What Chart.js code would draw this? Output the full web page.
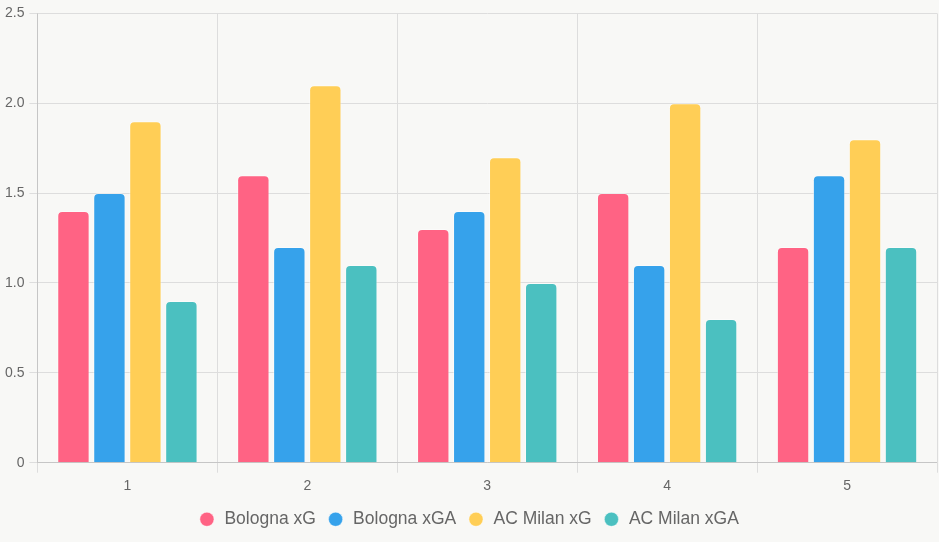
<!DOCTYPE html>
<html><head><meta charset="utf-8">
<script src="https://cdn.jsdelivr.net/npm/chart.js@4/dist/chart.umd.min.js"></script>
<style>html,body{margin:0;padding:0;background:#f8f8f6;}#wrap{width:939px;height:542px;}</style>
</head><body><div id="wrap"><canvas id="c"></canvas></div>
<script>
const categories = ['1','2','3','4','5'];
const bolognaXG = [1.4, 1.6, 1.3, 1.5, 1.2];
const bolognaXGA = [1.5, 1.2, 1.4, 1.1, 1.6];
const milanXG = [1.9, 2.1, 1.7, 2.0, 1.8];
const milanXGA = [0.9, 1.1, 1.0, 0.8, 1.2];
const seriesNames = ['Bologna xG','Bologna xGA','AC Milan xG','AC Milan xGA'];
const colors = ['#ff6384','#36a2eb','#ffce56','#4bc0c0'];
const vals = [bolognaXG, bolognaXGA, milanXG, milanXGA];
Chart.defaults.font.family = '"Liberation Sans", Arial, sans-serif';
Chart.defaults.color = '#666';
new Chart(document.getElementById('c'), {
  type: 'bar',
  data: {
    labels: categories,
    datasets: vals.map((v,i)=>({label: seriesNames[i], data: v, backgroundColor: colors[i], borderColor: 'rgba(255,255,255,0.45)', borderWidth: 1, borderRadius: 5}))
  },
  options: {
    responsive: true, maintainAspectRatio: false, animation: false,
    layout: {padding: {top: 1, right: 2, left: 0, bottom: 4}},
    plugins: {
      legend: {position: 'bottom', labels: {usePointStyle: true, pointStyle: 'circle', boxWidth: 17.5, boxHeight: 10, font: {size: 17.5}, padding: 11}},
      tooltip: {enabled: false}
    },
    scales: {
      x: {grid: {color: '#ddd', offset: true, tickLength: 10}, ticks: {font: {size: 14}, padding: 5}},
      y: {min: 0, max: 2.5, grid: {color: '#ddd'}, ticks: {stepSize: 0.5, font: {size: 14}, padding: 5, callback: v => v === 0 ? '0' : v.toFixed(1)}}
    }
  }
});
</script></body></html>
